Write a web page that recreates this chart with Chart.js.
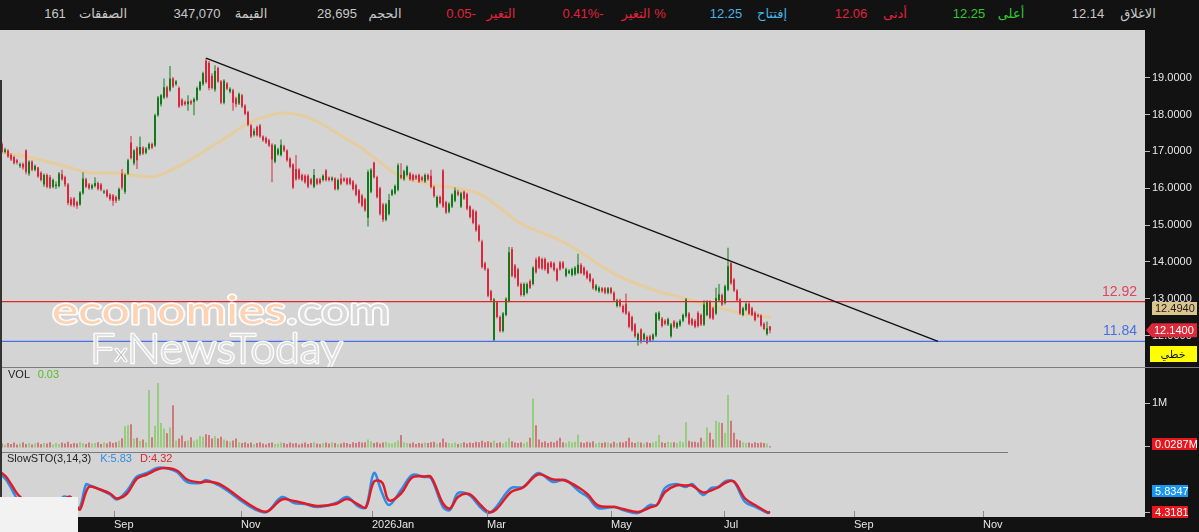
<!DOCTYPE html>
<html lang="en" dir="ltr">
<head>
<meta charset="utf-8">
<title>Chart</title>
<script src="https://cdn.jsdelivr.net/npm/chart.js@4.4.1/dist/chart.umd.min.js"></script>
<style>
    html, body { margin: 0; padding: 0; width: 1199px; height: 532px; overflow: hidden; background: #121212; }
    #top { position: absolute; left: 0; top: 0; width: 1199px; height: 30px; background: #121212;
           font: 13px "Liberation Sans", "DejaVu Sans", sans-serif; color: #c8c8c8; direction: ltr; }
    #top span { position: absolute; top: 6px; transform: translateX(-50%); white-space: nowrap; }
    #top .num { direction: ltr; unicode-bidi: bidi-override; }
    #top .dn { color: #e0233b; }
    #top .up { color: #2fc92f; }
    #top .op { color: #47b4e6; }
    .panel { position: absolute; left: 0; width: 1199px; }
    .panel canvas { display: block; }
    .sep { position: absolute; left: 0; height: 1px; background: #7c7c7c; }
    .lbl { position: absolute; font: 11px "Liberation Sans", sans-serif; color: #222; white-space: nowrap; }
</style>
</head>
<body>

<div id="top">
    <span class="num" style="left:55px">161</span>
    <span style="left:103px">الصفقات</span>
    <span class="num" style="left:197px">347,070</span>
    <span style="left:251px">القيمة</span>
    <span class="num" style="left:337px">28,695</span>
    <span style="left:385px">الحجم</span>
    <span class="num dn" style="left:461px">0.05-</span>
    <span class="dn" style="left:501px">التغير</span>
    <span class="num dn" style="left:583px">0.41%-</span>
    <span class="dn" style="left:636px">التغير</span>
    <span class="dn" style="left:660px">%</span>
    <span class="num op" style="left:726px">12.25</span>
    <span class="op" style="left:772px">إفتتاح</span>
    <span class="num dn" style="left:851px">12.06</span>
    <span class="dn" style="left:895px">أدنى</span>
    <span class="num up" style="left:969px">12.25</span>
    <span class="up" style="left:1011px">أعلى</span>
    <span class="num" style="left:1088px">12.14</span>
    <span style="left:1138px">الاغلاق</span>
</div>

<div class="panel" style="top:30px;height:337px"><canvas id="priceChart" width="1199" height="337"></canvas></div>
<div class="sep" style="top:367px;width:1199px"></div>
<div class="panel" style="top:368px;height:84px">
    <canvas id="volChart" width="1199" height="84"></canvas>
    <div class="lbl" style="left:8px;top:0px">VOL <span style="color:#4fbf25;margin-left:5px">0.03</span></div>
</div>
<div class="panel" style="top:452px;height:80px">
    <canvas id="stoChart" width="1199" height="80"></canvas>
    <div class="lbl" style="left:7px;top:0px">SlowSTO(3,14,3)<span style="color:#2f8de4;margin-left:9px">K:5.83</span><span style="color:#d9262e;margin-left:8px">D:4.32</span></div>
</div>
<div class="sep" style="top:452px;width:1008px"></div>
<div style="position:absolute;left:0;top:497px;width:78px;height:35px;background:#f2f2f2"></div>
<div style="position:absolute;left:0;top:80px;width:2px;height:417px;background:#333"></div>

<script>
// ========== Data (daily candles, one per trading day) ==========
const opens = [
    17.20,16.98,17.02,16.90,16.85,16.76,16.60,16.66,17.02,16.40,
    16.72,16.50,16.56,16.42,16.10,16.36,16.30,16.04,16.05,16.06,
    16.38,16.30,16.10,15.70,15.72,15.62,15.56,15.86,16.24,16.10,
    16.00,16.06,16.14,16.10,15.88,15.94,15.82,15.80,15.76,15.70,
    16.40,15.90,16.40,17.24,16.68,17.10,16.92,17.10,16.96,17.08,
    17.20,17.16,17.98,18.28,18.46,18.74,18.66,18.98,18.82,18.72,
    18.40,18.34,18.28,18.36,18.34,18.40,18.68,18.82,19.46,19.40,
    19.05,18.68,19.26,18.90,18.32,18.84,18.62,18.66,18.44,18.30,
    18.52,18.24,18.06,17.70,17.45,17.66,17.70,17.40,17.36,17.30,
    17.18,16.72,16.92,16.90,17.14,17.02,16.80,16.64,16.52,16.50,
    16.36,16.34,16.34,16.24,16.04,16.24,16.24,16.22,16.48,16.28,
    16.22,16.26,15.98,16.26,16.26,16.26,16.26,16.18,16.08,15.94,
    15.80,15.70,15.20,15.90,16.70,16.30,16.00,15.56,15.14,15.30,
    15.82,15.86,15.96,16.36,16.24,16.36,16.40,16.36,16.34,16.36,
    16.30,16.18,16.36,16.34,16.03,15.50,15.76,16.48,15.62,15.36,
    15.50,15.66,15.90,15.50,15.90,15.84,15.50,15.40,15.36,14.98,
    14.55,13.96,13.80,13.20,11.88,12.90,12.50,12.12,12.56,12.94,
    14.34,13.90,13.80,13.40,13.10,13.16,13.48,13.40,14.06,14.12,
    14.08,14.08,13.96,13.98,13.96,13.80,13.98,13.98,13.62,13.70,
    13.64,13.66,13.70,13.92,13.84,13.74,13.66,13.52,13.24,13.20,
    13.28,13.28,13.16,13.28,13.16,12.80,12.96,12.80,12.86,12.62,
    12.50,12.30,11.88,12.16,11.90,11.96,11.98,11.90,12.00,12.44,
    12.46,12.40,12.30,11.98,12.38,12.22,12.28,12.40,12.52,12.60,
    12.44,12.40,12.62,12.56,12.30,12.56,12.92,12.74,12.60,12.96,
    13.10,12.88,13.24,13.96,13.52,13.22,12.98,12.56,12.70,12.86,
    12.74,12.62,12.56,12.54,12.32,12.04,12.25
];
const highs = [
    17.25,17.10,17.06,16.95,16.88,16.80,16.70,16.70,17.06,16.76,
    16.76,16.64,16.58,16.46,16.40,16.40,16.36,16.26,16.18,16.44,
    16.50,16.34,16.14,15.76,15.76,15.66,15.92,16.43,16.28,16.14,
    16.12,16.30,16.18,16.14,15.96,15.98,15.86,15.84,15.80,16.02,
    16.52,16.40,16.80,17.42,17.06,17.14,17.40,17.14,17.12,17.24,
    17.24,18.02,18.50,18.56,18.98,18.78,19.32,19.02,18.94,18.76,
    18.44,18.38,18.52,18.40,18.46,18.76,18.92,19.16,19.53,19.45,
    19.12,19.34,19.30,18.94,18.96,18.88,18.74,18.70,18.48,18.60,
    18.56,18.28,18.10,17.74,17.62,17.70,17.74,17.44,17.40,17.34,
    17.22,17.20,17.10,17.32,17.18,17.06,16.84,16.68,16.90,16.54,
    16.40,16.38,16.38,16.28,16.52,16.28,16.28,16.38,16.52,16.32,
    16.32,16.30,16.26,16.40,16.30,16.30,16.30,16.22,16.12,15.98,
    15.84,15.74,16.50,16.54,16.72,16.34,16.04,15.60,15.60,15.84,
    15.98,16.10,16.68,16.68,16.50,16.62,16.44,16.40,16.38,16.40,
    16.34,16.40,16.40,16.50,16.07,15.80,15.80,16.52,15.66,15.62,
    15.86,16.02,15.96,15.90,15.94,15.88,15.54,15.44,15.40,15.02,
    14.60,14.00,13.84,13.24,13.02,12.94,12.54,12.64,13.04,14.40,
    14.40,13.94,13.84,13.44,13.44,13.44,13.52,13.88,14.12,14.16,
    14.12,14.12,14.00,14.02,14.00,13.84,14.02,14.02,13.84,13.80,
    13.84,13.88,14.22,13.96,13.88,13.78,13.70,13.56,13.40,13.34,
    13.32,13.32,13.32,13.32,13.20,13.00,13.00,12.84,13.14,12.66,
    12.54,12.34,12.08,12.20,12.08,12.00,12.02,12.06,12.64,12.66,
    12.50,12.44,12.48,12.34,12.42,12.38,12.44,12.60,13.02,12.64,
    12.48,12.44,12.66,12.60,12.96,12.96,12.96,12.78,13.30,13.40,
    13.14,13.38,14.38,14.00,13.56,13.26,13.02,12.78,12.90,12.90,
    12.78,12.66,12.60,12.58,12.36,12.38,12.25
];
const lows = [
    16.95,16.94,16.82,16.74,16.64,16.64,16.55,16.50,16.38,16.34,
    16.46,16.46,16.28,16.18,16.04,16.00,15.98,16.00,15.98,16.02,
    16.20,16.04,15.54,15.50,15.48,15.44,15.52,15.82,16.00,15.96,
    15.96,16.02,15.94,15.92,15.84,15.74,15.66,15.52,15.60,15.66,
    15.96,15.84,16.36,16.78,16.62,16.52,16.88,16.90,16.92,17.04,
    17.06,17.12,17.94,18.22,18.42,18.44,18.62,18.72,18.78,18.18,
    18.22,18.24,18.10,18.26,17.98,18.36,18.64,18.78,18.84,18.66,
    18.68,18.62,18.86,18.28,18.28,18.66,18.58,18.10,18.20,18.26,
    18.18,17.98,17.68,17.36,17.40,17.40,17.36,17.26,17.20,17.12,
    16.16,16.68,16.88,16.86,16.98,16.72,16.54,15.98,16.20,16.22,
    16.18,16.12,16.00,16.08,16.00,16.08,16.10,16.18,16.18,16.18,
    16.18,15.94,15.94,16.08,16.16,16.08,16.08,15.94,15.78,15.58,
    15.48,15.36,14.96,15.86,16.26,15.72,15.26,15.08,15.10,15.26,
    15.78,15.82,15.92,16.24,16.20,16.32,16.20,16.18,16.22,16.14,
    16.18,16.14,16.20,15.99,15.74,15.46,15.56,15.46,15.30,15.32,
    15.46,15.62,15.78,15.46,15.68,15.40,15.18,15.02,14.82,14.54,
    13.82,13.76,13.04,12.92,11.84,12.46,12.08,12.08,12.52,12.90,
    13.58,13.54,13.32,13.06,13.06,13.12,13.26,13.36,13.68,13.80,
    13.78,13.76,13.66,13.82,13.74,13.46,13.76,13.80,13.58,13.66,
    13.60,13.62,13.66,13.66,13.62,13.52,13.44,13.24,13.20,13.16,
    13.16,13.12,13.12,13.12,12.92,12.76,12.76,12.60,12.56,12.20,
    12.10,11.94,11.72,11.78,11.86,11.76,11.82,11.86,11.96,12.40,
    12.22,12.28,12.26,11.94,12.20,12.18,12.24,12.36,12.48,12.28,
    12.26,12.20,12.22,12.26,12.26,12.52,12.44,12.42,12.56,12.92,
    12.80,12.84,13.20,13.38,13.18,12.92,12.56,12.52,12.66,12.56,
    12.52,12.38,12.48,12.24,12.14,12.00,12.06
];
const closes = [
    16.98,17.05,16.86,16.78,16.68,16.70,16.65,16.56,16.44,16.72,
    16.50,16.60,16.32,16.22,16.36,16.04,16.02,16.22,16.10,16.40,
    16.24,16.10,15.60,15.55,15.54,15.52,15.88,16.26,16.04,16.00,
    16.08,16.14,15.98,15.96,15.92,15.78,15.70,15.66,15.66,15.98,
    16.02,16.36,16.76,16.82,17.02,16.76,17.12,16.94,17.08,17.20,
    17.10,17.98,18.46,18.52,18.74,18.48,18.98,18.76,18.90,18.22,
    18.26,18.28,18.36,18.30,18.42,18.72,18.88,19.12,18.88,18.72,
    18.72,19.18,18.90,18.32,18.92,18.70,18.70,18.32,18.28,18.56,
    18.22,18.02,17.72,17.40,17.55,17.44,17.40,17.30,17.24,17.16,
    16.78,17.16,17.06,17.18,17.02,16.76,16.58,16.02,16.24,16.26,
    16.22,16.16,16.04,16.12,16.36,16.12,16.14,16.34,16.22,16.22,
    16.28,15.98,16.22,16.12,16.20,16.12,16.12,15.98,15.82,15.62,
    15.52,15.40,16.44,16.50,16.30,15.76,15.30,15.14,15.56,15.68,
    15.94,16.06,16.62,16.28,16.46,16.58,16.24,16.22,16.26,16.18,
    16.22,16.36,16.24,16.03,15.78,15.76,15.60,15.50,15.34,15.58,
    15.82,15.94,15.82,15.86,15.72,15.44,15.22,15.06,14.86,14.58,
    13.86,13.80,13.08,12.96,12.98,12.50,12.12,12.60,13.00,14.26,
    13.62,13.58,13.36,13.10,13.40,13.40,13.30,13.84,13.72,13.84,
    13.82,13.80,13.70,13.86,13.78,13.50,13.80,13.84,13.80,13.76,
    13.80,13.84,13.92,13.70,13.66,13.56,13.48,13.28,13.36,13.30,
    13.20,13.16,13.28,13.16,12.96,12.96,12.80,12.64,12.60,12.24,
    12.14,11.98,12.04,11.82,12.04,11.80,11.86,12.02,12.60,12.62,
    12.26,12.32,12.44,12.30,12.24,12.34,12.40,12.56,12.98,12.32,
    12.30,12.24,12.26,12.30,12.84,12.92,12.48,12.46,13.02,13.12,
    12.84,13.34,13.88,13.42,13.22,12.96,12.60,12.74,12.86,12.60,
    12.56,12.42,12.52,12.28,12.18,12.20,12.14
];
// volume in millions of shares
const volumes = [
    0.09,0.07,0.10,0.08,0.11,0.07,0.09,0.12,0.08,0.10,
    0.07,0.09,0.11,0.08,0.10,0.09,0.12,0.07,0.10,0.08,
    0.11,0.09,0.13,0.08,0.10,0.09,0.12,0.10,0.08,0.11,
    0.09,0.10,0.12,0.08,0.11,0.09,0.13,0.10,0.12,0.15,
    0.21,0.48,0.50,0.52,0.20,0.22,0.15,0.18,0.12,1.29,
    0.23,0.49,1.45,0.55,0.43,0.32,0.45,0.95,0.16,0.20,
    0.27,0.14,0.16,0.23,0.15,0.18,0.26,0.24,0.30,0.28,
    0.20,0.26,0.20,0.24,0.18,0.15,0.13,0.16,0.20,0.12,
    0.10,0.12,0.09,0.11,0.08,0.10,0.12,0.09,0.07,0.10,
    0.11,0.08,0.09,0.12,0.10,0.08,0.11,0.09,0.10,0.07,
    0.09,0.11,0.08,0.10,0.12,0.09,0.08,0.10,0.11,0.09,
    0.12,0.10,0.08,0.09,0.11,0.10,0.08,0.12,0.10,0.13,
    0.11,0.12,0.18,0.14,0.10,0.12,0.09,0.11,0.13,0.10,
    0.09,0.12,0.16,0.28,0.12,0.10,0.09,0.11,0.08,0.10,
    0.09,0.11,0.10,0.12,0.13,0.09,0.11,0.20,0.12,0.10,
    0.09,0.11,0.08,0.10,0.12,0.09,0.11,0.10,0.13,0.12,
    0.15,0.12,0.14,0.11,0.16,0.10,0.12,0.09,0.13,0.22,
    0.14,0.11,0.10,0.12,0.09,0.13,0.22,1.10,0.50,0.18,
    0.12,0.14,0.10,0.13,0.11,0.15,0.22,0.12,0.10,0.14,
    0.11,0.13,0.29,0.12,0.10,0.13,0.11,0.14,0.09,0.12,
    0.10,0.12,0.11,0.09,0.13,0.10,0.12,0.11,0.14,0.22,
    0.12,0.10,0.13,0.11,0.09,0.12,0.10,0.11,0.14,0.28,
    0.12,0.10,0.13,0.11,0.12,0.10,0.14,0.12,0.57,0.15,
    0.13,0.13,0.11,0.22,0.14,0.45,0.33,0.18,0.60,0.57,
    0.55,0.33,1.18,0.60,0.33,0.18,0.16,0.12,0.10,0.11,
    0.09,0.12,0.10,0.11,0.10,0.09,0.0287
];

// moving average, read at points along the line (x = candle index)
const maIdx = [-0.7,10.3,21.7,30.3,38.3,43.7,50.3,55,61.7,68.3,
    75,81.7,86,93.7,99.3,106,112.7,119.3,125,130.3,
    137,143.7,151.7,159.3,166,172.7,179.3,186,192.7,199.3,
    206,212.7,219.3,226,232.7,239.3,246,256.3];
const maVals = [16.98,16.82,16.58,16.41,16.41,16.35,16.31,16.44,16.72,17.05,
    17.39,17.75,17.90,18.04,17.99,17.77,17.44,17.12,16.77,16.44,
    16.22,16.09,16.00,15.84,15.46,15.05,14.81,14.59,14.27,13.91,
    13.59,13.37,13.18,13.05,12.88,12.75,12.61,12.494];

// slow stochastic %K / %D, read at points along the lines
const stoIdx = [-0.7,1.3,3.3,5.3,9.3,14.3,18.7,20.7,22.7,24.7,
    26,28,29.3,32.7,36,38.3,41.7,45,48.3,51.7,
    54.3,58.3,61.7,66,68,72,75.7,79.3,84.7,88.3,
    93.3,97.3,101,105,111.3,115,119,121.3,124,126.7,
    129,133,136.7,140.7,143,147,149.3,152,155.7,159.7,
    162.3,164.7,169.7,173.7,178.7,183.7,187.7,192.7,195.3,198.7,
    204.3,207,212,216,218.3,221,224.7,228,230,233.7,
    236.3,238.7,241.3,244,247.7,251.3,255.3,256];
const stoK = [82,70,50,30,15,10,25,36,30,12,
    14,60,58,50,40,30,48,76,83,93,
    93,85,65,63,69,59,45,29,9,5,
    35,23,21,15,23,35,15,15,83,43,
    19,49,79,75,73,15,9,43,39,13,
    3,15,53,55,83,65,69,45,35,13,
    15,9,3,19,19,53,61,55,61,39,
    53,55,67,65,25,15,3,5.83];
const stoD = [86,76,58,40,20,12,18,30,36,18,
    10,45,56,50,42,32,42,72,80,90,
    93,88,70,64,66,62,49,33,12,6,
    30,27,22,17,21,31,19,14,66,64,
    28,42,74,76,75,22,12,35,41,18,
    5,10,45,54,80,70,68,52,40,18,
    15,11,5,14,19,45,58,58,58,44,
    48,54,64,66,32,18,4,4.32];

// axes
const monthIdx = [37.33, 79.67, 123.33, 161.67, 203, 240.67, 284, 327];
const monthLabels = ['Sep', 'Nov', '2026Jan', 'Mar', 'May', 'Jul', 'Sep', 'Nov'];
const priceTicks = [12, 13, 14, 15, 16, 17, 18, 19];

// drawn levels
const resistance = 12.92;
const support = 11.84;
const trendStart = { idx: 68, price: 19.53 };
const trendEnd = { idx: 312, price: 11.84 };
const lastClose = 12.14, lastMa = 12.494, lastVol = 0.0287, lastK = 5.8347, lastD = 4.3181;

// ========== Styling ==========
const BG = '#d4d4d4', AXIS_BG = '#121212';
const UP = '#137a1a', DOWN = '#d8283c';
const VOL_UP = '#5cc62c', VOL_DOWN = '#c91f22';
const FONT = '"Liberation Sans", "DejaVu Sans", sans-serif';
const X_MIN = -2 / 3, X_MAX = X_MIN + 1145 / 3;

const isUp = i => closes[i] >= opens[i];

const background = {
    id: 'background',
    beforeDraw(chart) {
        const { ctx, chartArea: a, width, height } = chart;
        ctx.save();
        ctx.fillStyle = AXIS_BG;
        ctx.fillRect(0, 0, width, height);
        ctx.fillStyle = BG;
        ctx.fillRect(a.left, a.top, a.right - a.left, a.bottom - a.top);
        ctx.restore();
    }
};

// no automatic label padding: the panels must fill their boxes exactly
function noPadding(s) {
    s.paddingTop = 0; s.paddingBottom = 0; s.paddingLeft = 0; s.paddingRight = 0;
}

function xAxis(show) {
    return {
        type: 'linear', min: X_MIN, max: X_MAX, offset: false, display: show,
        grid: { display: false, drawTicks: false },
        border: { display: false },
        afterBuildTicks: s => { s.ticks = monthIdx.map(v => ({ value: v })); },
        afterFit: s => { s.height = show ? 15 : 0; noPadding(s); },
        ticks: {
            autoSkip: false, maxRotation: 0, minRotation: 0, align: 'start', padding: 1,
            color: '#e6e6e6', font: { family: FONT, size: 11 },
            callback: (v, i) => monthLabels[i]
        }
    };
}

function yAxis(min, max, tickValues, fmt, showLabels) {
    return {
        type: 'linear', position: 'right', min, max,
        grid: { display: true, drawOnChartArea: false, drawTicks: true, tickLength: 5, color: '#bdbdbd' },
        border: { display: false },
        afterFit: s => { s.width = 54; noPadding(s); },
        afterBuildTicks: s => { s.ticks = tickValues.map(v => ({ value: v })); },
        ticks: { display: showLabels, padding: 2, color: '#e8e8e8', font: { family: FONT, size: 11 }, callback: fmt }
    };
}

const baseOptions = {
    responsive: false,
    animation: false,
    events: [],
    layout: { padding: 0 },
    plugins: { legend: { display: false }, tooltip: { enabled: false } }
};

function labelBox(ctx, x, yc, w, h, bg, fg, text) {
    ctx.fillStyle = bg;
    ctx.fillRect(x, Math.round(yc - h / 2), w, h);
    ctx.fillStyle = fg;
    ctx.font = '11px ' + FONT;
    ctx.textAlign = 'left';
    ctx.textBaseline = 'middle';
    ctx.fillText(text, x + 3, yc + 0.5);
}

// ========== Price panel ==========
const priceOverlay = {
    id: 'priceOverlay',
    afterDatasetsDraw(chart) {
        const { ctx } = chart;
        ctx.save();
        ctx.lineJoin = 'round';

        // economies.com
        ctx.font = '38px Lato, "Open Sans", sans-serif';
        ctx.textBaseline = 'alphabetic';
        ctx.textAlign = 'left';
        const w1 = ctx.measureText('economies').width;
        const w2 = ctx.measureText('.com').width;
        const sx = 338 / (w1 + w2);
        ctx.save();
        ctx.translate(52, 294);
        ctx.scale(sx, 1);
        ctx.lineWidth = 3;
        ctx.strokeStyle = 'rgba(255,255,255,0.95)';
        ctx.strokeText('economies', 0, 0);
        ctx.fillStyle = '#fdd3b4';
        ctx.fillText('economies', 0, 0);
        ctx.strokeText('.com', w1, 0);
        ctx.fillStyle = '#dadada';
        ctx.fillText('.com', w1, 0);
        ctx.restore();

        // FxNewsToday
        ctx.font = '300 42px Lato, "Open Sans", sans-serif';
        const wF = ctx.measureText('F').width;
        const wRest = ctx.measureText('NewsToday').width;
        ctx.font = '300 24px Lato, "Open Sans", sans-serif';
        const wx = ctx.measureText('x').width;
        const sx2 = 253 / (wF + wx + wRest);
        ctx.save();
        ctx.translate(90, 333);
        ctx.scale(sx2, 1);
        ctx.lineWidth = 2.5;
        ctx.strokeStyle = 'rgba(255,255,255,0.95)';
        ctx.fillStyle = '#dedede';
        ctx.font = '300 42px Lato, "Open Sans", sans-serif';
        ctx.strokeText('F', 0, 0);
        ctx.fillText('F', 0, 0);
        ctx.strokeText('NewsToday', wF + wx, 0);
        ctx.fillText('NewsToday', wF + wx, 0);
        ctx.font = '300 24px Lato, "Open Sans", sans-serif';
        ctx.fillStyle = '#bcbcbc';
        ctx.strokeText('x', wF, -2);
        ctx.fillText('x', wF, -2);
        ctx.restore();
        ctx.restore();
    },
    afterDraw(chart) {
        const { ctx, chartArea: a, scales: { y } } = chart;
        ctx.save();

        // level labels
        ctx.font = '14px ' + FONT;
        ctx.textAlign = 'right';
        ctx.textBaseline = 'alphabetic';
        ctx.fillStyle = '#e0435a';
        ctx.fillText(resistance.toFixed(2), a.right - 8, y.getPixelForValue(resistance) - 6);
        ctx.fillStyle = '#4a6ee0';
        ctx.fillText(support.toFixed(2), a.right - 8, y.getPixelForValue(support) - 6);

        // right axis boxes
        const cy = y.getPixelForValue(lastClose);
        labelBox(ctx, 1152, cy - 22, 45, 13, '#dcc48f', '#1a1a1a', lastMa.toFixed(4));

        ctx.fillStyle = '#dc2a3a';
        ctx.beginPath();
        ctx.moveTo(1146, cy);
        ctx.lineTo(1152, cy - 7);
        ctx.lineTo(1197, cy - 7);
        ctx.lineTo(1197, cy + 7);
        ctx.lineTo(1152, cy + 7);
        ctx.closePath();
        ctx.fill();
        ctx.fillStyle = '#ffffff';
        ctx.font = '11px ' + FONT;
        ctx.textAlign = 'left';
        ctx.textBaseline = 'middle';
        ctx.fillText(lastClose.toFixed(4), 1154, cy + 0.5);

        ctx.fillStyle = '#ffff00';
        ctx.fillRect(1150, Math.round(cy + 16), 47, 16);
        ctx.fillStyle = '#111';
        ctx.font = '11px "DejaVu Sans", sans-serif';
        ctx.textAlign = 'center';
        ctx.fillText('خطي', 1173, cy + 24.5);
        ctx.restore();
    }
};

const candleWicks = highs.map((h, i) => ({ x: i, y: [lows[i], h] }));
const candleBodies = opens.map((o, i) => ({ x: i, y: [o, closes[i]] }));
const candleColor = c => isUp(c.dataIndex) ? UP : DOWN;

new Chart(document.getElementById('priceChart'), {
    type: 'bar',
    data: {
        datasets: [
            {
                type: 'line', order: 6,
                data: maIdx.map((x, i) => ({ x, y: maVals[i] })),
                borderColor: 'rgba(232,204,152,0.9)', borderWidth: 3,
                pointRadius: 0, tension: 0.4, cubicInterpolationMode: 'monotone'
            },
            {
                order: 5, data: candleWicks, backgroundColor: candleColor,
                barThickness: 1, grouped: false, inflateAmount: 0, borderWidth: 0
            },
            {
                order: 4, data: candleBodies, backgroundColor: candleColor,
                barThickness: 2, grouped: false, inflateAmount: 0, borderWidth: 0, minBarLength: 1
            },
            {
                type: 'line', order: 3,
                data: [{ x: X_MIN, y: resistance }, { x: X_MAX, y: resistance }],
                borderColor: '#e02828', borderWidth: 1.3, pointRadius: 0
            },
            {
                type: 'line', order: 2,
                data: [{ x: X_MIN, y: support }, { x: X_MAX, y: support }],
                borderColor: '#4a6ef0', borderWidth: 1.3, pointRadius: 0
            },
            {
                type: 'line', order: 1,
                data: [{ x: trendStart.idx, y: trendStart.price }, { x: trendEnd.idx, y: trendEnd.price }],
                borderColor: '#111111', borderWidth: 1.4, pointRadius: 0
            }
        ]
    },
    options: {
        ...baseOptions,
        scales: {
            x: xAxis(false),
            y: yAxis(11.145, 20.295, priceTicks, v => v.toFixed(4), true)
        }
    },
    plugins: [background, priceOverlay]
});

// ========== Volume panel ==========
const volOverlay = {
    id: 'volOverlay',
    afterDraw(chart) {
        const { ctx, scales: { y } } = chart;
        ctx.save();
        labelBox(ctx, 1152, y.getPixelForValue(lastVol) - 2, 45, 12, '#e8161c', '#ffffff', lastVol.toFixed(4) + 'M');
        ctx.restore();
    }
};

new Chart(document.getElementById('volChart'), {
    type: 'bar',
    data: {
        datasets: [{
            data: volumes.map((v, i) => ({ x: i, y: v })),
            backgroundColor: c => isUp(c.dataIndex) ? VOL_UP : VOL_DOWN,
            barThickness: 1, grouped: false, inflateAmount: 0, borderWidth: 0
        }]
    },
    options: {
        ...baseOptions,
        scales: {
            x: xAxis(false),
            y: yAxis(-0.101, 1.787, [1, lastVol], v => v === 1 ? '1M' : '', true)
        }
    },
    plugins: [background, volOverlay]
});

// ========== Slow stochastic panel ==========
const stoOverlay = {
    id: 'stoOverlay',
    afterDraw(chart) {
        const { ctx, chartArea: a, scales: { x, y } } = chart;
        ctx.save();
        // month tick marks inside the panel
        ctx.strokeStyle = '#8a8a8a';
        ctx.lineWidth = 1;
        monthIdx.forEach(v => {
            const px = Math.round(x.getPixelForValue(v)) + 0.5;
            ctx.beginPath();
            ctx.moveTo(px, a.bottom - 6);
            ctx.lineTo(px, a.bottom);
            ctx.stroke();
        });
        const dy = y.getPixelForValue(lastD);
        labelBox(ctx, 1152, dy - 21, 36, 12, '#1795f0', '#ffffff', lastK.toFixed(4));
        labelBox(ctx, 1152, dy, 36, 12, '#e8161c', '#ffffff', lastD.toFixed(4));
        ctx.restore();
    }
};

new Chart(document.getElementById('stoChart'), {
    type: 'line',
    data: {
        datasets: [
            {
                order: 2, data: stoIdx.map((x, i) => ({ x, y: stoK[i] })),
                borderColor: '#2d8de6', borderWidth: 2.5, pointRadius: 0, tension: 0.35
            },
            {
                order: 1, data: stoIdx.map((x, i) => ({ x, y: stoD[i] })),
                borderColor: '#e01b26', borderWidth: 2.5, pointRadius: 0, tension: 0.35
            }
        ]
    },
    options: {
        ...baseOptions,
        scales: {
            x: xAxis(true),
            y: yAxis(-5, 125, [lastD], v => '', false)
        }
    },
    plugins: [background, stoOverlay]
});
</script>
</body>
</html>
